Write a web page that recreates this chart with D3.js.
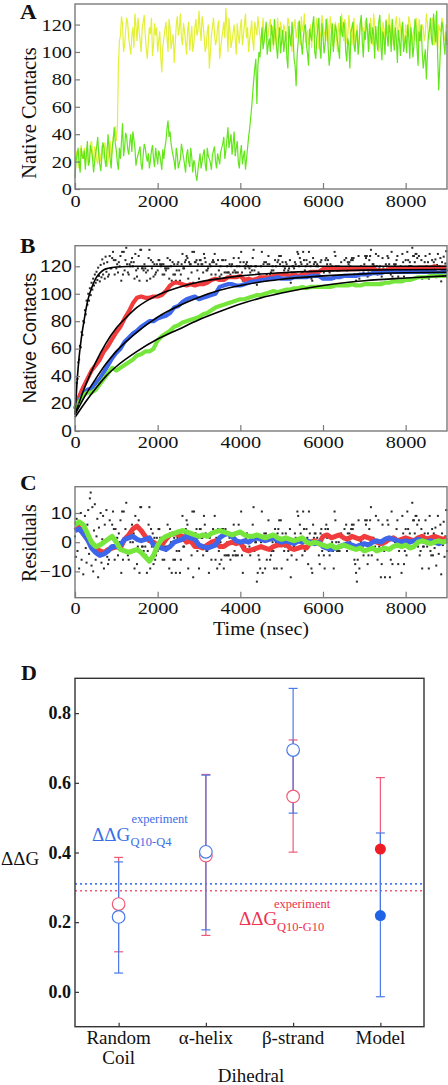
<!DOCTYPE html>
<html><head><meta charset="utf-8">
<script src="https://cdn.jsdelivr.net/npm/d3@7"></script>
<style>body{margin:0;background:#fff}svg{display:block}</style>
</head><body>
<svg id="c" width="448" height="1085"></svg>
<script>
// ---------- DATA ----------
// Panel A: two trajectories sampled every 25 ns
const tA = d3.range(0, 9001, 25);
const yellowA = [20,24,28,19,15,26,32,22,25,30,18,24,30,17,22,33,35,26,20,31,28,21,18,29,25,20,32,27,22,34,30,16,20,29,35,23,28,38,40,46,35,
45,90,108,112,126,120,100,105,116,125,121,110,104,98,112,118,103,128,119,108,125,115,109,100,117,122,127,112,102,95,108,118,113,125,97,105,121,112,118,100,
108,115,96,85,104,110,116,122,111,100,124,118,102,108,113,92,106,120,126,112,117,128,110,105,121,115,107,98,116,122,101,110,119,100,106,118,124,112,115,130,
117,108,126,120,111,100,104,115,120,88,99,112,118,125,113,105,109,118,123,95,103,110,115,122,110,132,118,100,125,115,103,108,114,120,110,98,121,112,106,118,
124,105,112,120,128,110,118,100,109,115,123,108,101,122,117,112,126,118,111,105,114,125,107,115,120,108,113,120,124,112,119,102,110,118,104,125,116,110,122,115,
106,120,117,108,112,125,121,112,108,100,113,118,124,110,115,122,118,105,126,115,119,128,107,112,116,105,111,120,103,118,122,110,114,125,117,102,109,115,127,120,
115,112,108,125,119,105,126,118,104,110,116,122,111,100,121,115,112,128,118,108,124,120,106,112,127,118,113,105,117,125,103,110,120,100,109,122,125,115,118,108,
123,118,114,110,102,125,116,105,128,120,109,112,119,100,111,118,104,122,117,108,124,115,113,128,119,110,121,105,112,120,126,115,110,125,118,108,121,112,105,120,
113,110,126,122,117,105,112,118,108,125,120,100,124,115,107,120,118,108,113,128,121,112,109,118,115,125,123,105,127,110,102,120,116,115,125,122,111,108,120,118];
const greenA = [8,20,25,30,18,12,30,24,22,28,14,26,35,17,20,32,28,22,12,20,26,31,38,25,18,13,24,34,30,21,16,27,40,29,22,15,30,36,45,33,28,
19,14,30,22,35,48,24,30,41,38,29,25,34,40,27,42,36,30,17,22,25,28,31,18,14,25,33,30,24,20,26,15,21,28,32,22,16,30,24,18,
28,25,20,14,29,22,30,35,44,50,38,42,33,28,24,20,14,30,25,15,19,22,33,28,23,18,12,25,29,20,16,30,23,12,21,18,10,6,14,20,
26,15,20,25,29,18,13,30,24,22,19,14,25,28,31,20,15,26,22,18,27,30,33,38,22,28,36,45,30,35,40,25,33,42,24,30,35,20,15,26,
32,18,24,28,14,22,30,38,44,52,60,70,80,88,95,62,90,100,96,108,118,102,108,115,122,98,105,110,100,120,113,105,124,112,104,95,110,118,99,108,
116,100,107,115,96,88,119,110,104,122,112,95,90,75,98,108,123,115,106,98,111,118,120,105,99,90,117,112,108,120,126,100,95,110,117,125,103,95,121,112,
99,105,124,118,103,90,97,112,121,100,110,120,115,108,102,95,126,115,111,122,118,100,93,110,105,88,114,118,122,105,100,112,116,98,107,120,127,108,96,115,
109,125,117,100,121,112,106,118,113,95,119,108,101,122,127,105,94,115,110,98,123,112,104,120,114,100,124,110,101,118,109,92,116,108,97,115,122,100,106,112,
99,120,111,95,118,110,96,105,124,118,103,90,115,108,120,100,88,95,102,80,97,112,116,125,109,105,128,115,107,130,96,72,90,110,122,118,106,98,115,105];

// Panel B: averaged data every 100 ns, fast folder (black) every 20 ns
const tB = d3.range(0, 9001, 100);
const tK = d3.range(0, 9001, 20);
const redB = [16,25,32,38,44,48,52,58,62,67,72,76,82,87,93,97,98,97,97,98,
98,99,102,106,108,108,107,106,107,106,107,107,108,110,111,110,110,112,112,112,
113,110,111,110,111,112,112,112,113,114,114,114,113,114,113,114,114,116,116,116,
118,119,118,119,118,118,118,118,118,118,119,118,119,117,117,117,118,118,118,118,
119,118,118,119,119,119,119,120,119,119,119];
const blueB = [16,22,27,30,31,35,38,43,48,53,57,60,65,68,71,73,76,78,80,80,
82,83,84,86,90,91,94,96,97,98,96,97,98,99,100,105,106,107,107,106,
106,107,108,109,109,110,110,111,111,112,111,111,111,112,112,112,112,113,113,113,
111,111,111,112,112,113,113,113,113,114,114,114,115,115,115,116,116,116,116,116,
116,116,116,116,116,116,116,116,115,116,116];
const greenB = [16,21,26,28,28,30,34,38,42,46,44,46,48,50,52,55,56,58,58,60,
66,69,71,73,76,77,79,80,81,82,83,85,86,88,90,91,92,93,94,95,
96,96,97,98,99,99,100,101,102,101,102,103,103,104,104,105,104,105,105,105,
105,105,105,106,106,106,106,107,106,106,107,107,107,107,107,108,108,109,109,109,
110,110,111,112,112,112,113,113,113,113,113];
const blackB = [14,20,35,38,50,52,62,61,72,70,80,79,88,85,95,92,100,95,104,99,108,103,111,106,114,108,116,110,119,113,109,121,112,125,114,122,111,127,116,123,
112.5,114,127.5,118.5,118.5,126,130.5,124.5,114,124.5,118.5,121.5,115.5,123,120,127.5,109.5,130.5,114,130.5,
117,124.5,133.5,121.5,115.5,114,121.5,120,123,126,120,123,111,129,117,112.5,118.5,127.5,109.5,132,
132,118.5,118.5,117,121.5,118.5,115.5,109.5,117,126,132,111,124.5,118.5,123,112.5,121.5,114,115.5,121.5,
117,124.5,124.5,121.5,120,121.5,114,121.5,114,118.5,117,118.5,126,118.5,111,124.5,120,109.5,123,114,
121.5,114,109.5,117,121.5,123,117,109.5,114,121.5,129,118.5,118.5,123,124.5,127.5,126,111,123,121.5,
121.5,115.5,130.5,108,130.5,123,123,124.5,117,121.5,111,124.5,124.5,121.5,121.5,115.5,129,126,123,117,
117,118.5,109.5,121.5,120,114,123,124.5,123,129,114,121.5,111,124.5,117,112.5,120,114,124.5,124.5,
111,115.5,124.5,115.5,120,115.5,115.5,121.5,114,120,121.5,115.5,126,117,115.5,115.5,120,115.5,126,120,
123,130.5,115.5,109.5,123,120,118.5,121.5,123,120,120,118.5,115.5,120,117,126,132,117,120,120,
106.5,109.5,115.5,114,111,120,130.5,109.5,121.5,123,111,123,114,121.5,127.5,121.5,114,115.5,117,120,
117,111,124.5,120,111,123,124.5,127.5,121.5,127.5,111,123,120,117,118.5,123,121.5,114,117,118.5,
124.5,108,115.5,120,120,118.5,123,121.5,114,130.5,129,120,126,123,121.5,115.5,130.5,124.5,117,120,
124.5,121.5,112.5,130.5,123,120,111,109.5,126,121.5,123,123,120,121.5,120,115.5,112.5,123,124.5,117,
118.5,115.5,111,124.5,126,121.5,124.5,117,115.5,121.5,118.5,120,117,111,130.5,127.5,120,117,117,120,
117,118.5,123,118.5,118.5,118.5,124.5,118.5,126,117,123,121.5,123,120,124.5,126,124.5,126,114,112.5,
109.5,106.5,114,127.5,111,118.5,120,118.5,118.5,115.5,121.5,127.5,126,127.5,112.5,115.5,124.5,127.5,132,115.5,
121.5,121.5,120,118.5,129,120,114,127.5,118.5,120,108,112.5,126,118.5,117,108,121.5,120,127.5,126,
121.5,108,114,130.5,112.5,
118.5,121.5,120,121.5,124.5,127.5,112.5,117,118.5,120,109.5,129,123,112.5,117,124.5,115.5,130.5,124.5,120,
123,120,120,133.5,127.5,127.5,123,129,129,126,118.5,127.5,115.5,117,124.5,111,118.5,118.5,123,127.5,
120,118.5,123,111,129,117,115.5,124.5,115.5,123,
118,125,112,121,129,116,120,126,109,123,119,127,115,122,131,117];
// exponential fits (time, value)
const fitBlack = [[0,12],[50,36],[100,54],[150,67],[200,77],[250,86],[300,94],[400,104],[500,111],[600,115],[700,117.5],[800,118.5],[1000,119.5],[1500,120],[9000,120]];
const fitRed = [[0,12],[250,33],[500,50],[750,64],[1000,75],[1250,83],[1500,90],[2000,99],[2500,104.5],[3000,108.5],[3500,111],[4000,113],[5000,115.3],[6000,116.5],[7000,117.2],[8000,117.5],[9000,117.7]];
const fitBlue = [[0,12],[250,26],[500,38],[750,49],[1000,58],[1500,72],[2000,83],[2500,91],[3000,97.5],[3500,102.5],[4000,106],[5000,110.5],[6000,113],[7000,114.5],[8000,115.3],[9000,115.7]];
const fitGreen = [[0,10],[250,21],[500,31],[750,40],[1000,47],[1500,58],[2000,67],[2500,74],[3000,81],[3500,87],[4000,92.5],[4500,97],[5000,100.5],[6000,106],[7000,109.5],[8000,111.5],[9000,113]];

// Panel C: residuals
const redC = [4,5,3,1,0,-2,-3,-3.5,-2.5,-2,-1.5,-2,1,2.5,4.5,5.5,4,2,0.5,0,
-1,-1,1,2.5,3,2.5,2,0,0.5,-1.5,-1.5,-2,-1,0,0.5,-1.5,-1.5,-0.5,0,-0.5,
0,-2.5,-3,-2.5,-2,-1.5,-2,-2.5,-1.5,-1,-1,-0.5,-2,-2.5,-2,-1.5,-2,0,0.5,-0.5,
2,2.5,1.5,2,2.5,1.5,1,2,1.5,1,2,1.5,1,0,-0.5,0,1,1.5,0.5,1,
1.5,1,0.5,1.5,2,1,1.5,2,1.5,1,1.5];
const blueC = [4,4.5,3,1,-2,-3.5,-4.5,-4,-3,-1.5,-1.5,-1,1,1.5,2,1,0.5,1,1.5,-1,
-1.5,-2,-2.5,-1.5,0,0.5,1,2,1.5,1,-1,-1.5,-2,-1.5,-1,1.5,2.5,3,2,0.5,
0,0.5,0,1,1.5,1,0.5,1,1.5,0.5,0,0.5,0,-0.5,0.5,0,0.5,0,-0.5,0,
-1.5,-2,-2.5,-2,-1.5,-1,-0.5,-1,-1.5,-1,-0.5,-1,0,0.5,0,1,1.5,1,0.5,0,
0.5,0,0.5,1,0.5,0,0.5,0,-0.5,0,0.5];
const greenC = [6,7,6,3,0,-1.5,-1,0,1,2,0,-2.5,-3,-3.5,-3,-2.5,-3.5,-5,-6.5,-4.5,
-1,1,2,2.5,3,3.5,4,3.5,3,2.5,2,2.5,2,3,3.5,4,3.5,3,2.5,3,
3.5,2.5,2,2,2.5,2,1.5,2,2.5,1.5,1,1.5,1,0.5,1,1.5,0,-0.5,0,-0.5,
-1,-1.5,-1,-2,-1.5,-1,-1.5,-2,-2.5,-2,-3,-2.5,-2,-3,-2.5,-2,-2.5,-1.5,-1,-1.5,
-1,-2,-1.5,0,0.5,0,-0.5,0,0.5,0,0.5];
const blackC = [2,-5,8,-3,6,-9,4,10,-6,3,-11,5,9,-2,-7,6,11,-4,15,17,-8,12,-10,4,13,-6,2,8,-12,5,-3,10,-7,1,9,-9,6,-4,11,-5,
-7.5,-6,7.5,-1.5,-1.5,6,10.5,4.5,-6,4.5,-1.5,1.5,-4.5,3,0,7.5,-10.5,10.5,-6,10.5,
-3,4.5,13.5,1.5,-4.5,-6,1.5,0,3,6,0,3,-9,9,-3,-7.5,-1.5,7.5,-10.5,12,
12,-1.5,-1.5,-3,1.5,-1.5,-4.5,-10.5,-3,6,12,-9,4.5,-1.5,3,-7.5,1.5,-6,-4.5,1.5,
-3,4.5,4.5,1.5,0,1.5,-6,1.5,-6,-1.5,-3,-1.5,6,-1.5,-9,4.5,0,-10.5,3,-6,
1.5,-6,-10.5,-3,1.5,3,-3,-10.5,-6,1.5,9,-1.5,-1.5,3,4.5,7.5,6,-9,3,1.5,
1.5,-4.5,10.5,-12,10.5,3,3,4.5,-3,1.5,-9,4.5,4.5,1.5,1.5,-4.5,9,6,3,-3,
-3,-1.5,-10.5,1.5,0,-6,3,4.5,3,9,-6,1.5,-9,4.5,-3,-7.5,0,-6,4.5,4.5,
-9,-4.5,4.5,-4.5,0,-4.5,-4.5,1.5,-6,0,1.5,-4.5,6,-3,-4.5,-4.5,0,-4.5,6,0,
3,10.5,-4.5,-10.5,3,0,-1.5,1.5,3,0,0,-1.5,-4.5,0,-3,6,12,-3,0,0,
-13.5,-10.5,-4.5,-6,-9,0,10.5,-10.5,1.5,3,-9,3,-6,1.5,7.5,1.5,-6,-4.5,-3,0,
-3,-9,4.5,0,-9,3,4.5,7.5,1.5,7.5,-9,3,0,-3,-1.5,3,1.5,-6,-3,-1.5,
4.5,-12,-4.5,0,0,-1.5,3,1.5,-6,10.5,9,0,6,3,1.5,-4.5,10.5,4.5,-3,0,
4.5,1.5,-7.5,10.5,3,0,-9,-10.5,6,1.5,3,3,0,1.5,0,-4.5,-7.5,3,4.5,-3,
-1.5,-4.5,-9,4.5,6,1.5,4.5,-3,-4.5,1.5,-1.5,0,-3,-9,10.5,7.5,0,-3,-3,0,
-3,-1.5,3,-1.5,-1.5,-1.5,4.5,-1.5,6,-3,3,1.5,3,0,4.5,6,4.5,6,-6,-7.5,
-10.5,-13.5,-6,7.5,-9,-1.5,0,-1.5,-1.5,-4.5,1.5,7.5,6,7.5,-7.5,-4.5,4.5,7.5,12,-4.5,
1.5,1.5,0,-1.5,9,0,-6,7.5,-1.5,0,-12,-7.5,6,-1.5,-3,-12,1.5,0,7.5,6,
1.5,-12,-6,10.5,-7.5,
-1.5,1.5,0,1.5,4.5,7.5,-7.5,-3,-1.5,0,-10.5,9,3,-7.5,-3,4.5,-4.5,10.5,4.5,0,
3,0,0,13.5,7.5,7.5,3,9,9,6,-1.5,7.5,-4.5,-3,4.5,-9,-1.5,-1.5,3,7.5,
0,-1.5,3,-9,9,-3,-4.5,4.5,-4.5,3,
-2,5,-8,1,9,-4,0,6,-11,3,-1,7,-5,2,11,-3];

// Panel D
const categories = ["Random Coil", "α-helix", "β-strand", "Model"];
const catLines = [["Random","Coil"],["α-helix"],["β-strand"],["Model"]];
const redVal = [0.252, 0.391, 0.561, 0.410];
const redLo  = [0.115, 0.162, 0.401, 0.210];
const redHi  = [0.386, 0.624, 0.723, 0.615];
const blueVal = [0.215, 0.402, 0.694, 0.219];
const blueLo  = [0.054, 0.178, 0.513, -0.014];
const blueHi  = [0.373, 0.622, 0.871, 0.456];
const isModel = [false, false, false, true];
const expBlue = 0.31, expRed = 0.29;
const xTicks = [0, 2000, 4000, 6000, 8000];

// ---------- DRAW ----------
const svg = d3.select("#c");
const SERIF = "'Liberation Serif','Times New Roman',serif";
const SANS = "'Liberation Sans',Arial,sans-serif";
const FRAME = "#7a7a7a";
const HS = 1.16;

function stretch(sel, k) {
  sel.each(function () {
    const n = this.getComputedTextLength();
    if (n > 0) { this.setAttribute("textLength", n * k); this.setAttribute("lengthAdjust", "spacingAndGlyphs"); }
  });
}
function label(txt, x, y, opt) {
  const t = svg.append("text").attr("x", x).attr("y", y).text(txt)
    .attr("font-family", opt.family || SERIF).attr("font-size", opt.size)
    .attr("font-weight", opt.weight || "normal").attr("fill", opt.fill || "#111")
    .attr("text-anchor", opt.anchor || "start");
  if (opt.rotate) t.attr("transform", `rotate(-90,${x},${y})`);
  if (opt.k) stretch(t, opt.k);
  return t;
}

function panel(cfg) {
  const x = d3.scaleLinear([0, 9000], [75, 447]);
  const y = d3.scaleLinear(cfg.ydom, [cfg.bottom, cfg.top]);
  const g = svg.append("g");
  cfg.draw(g, x, y);
  svg.append("rect").attr("x", 75).attr("y", cfg.top).attr("width", 372).attr("height", cfg.bottom - cfg.top)
    .attr("fill", "none").attr("stroke", FRAME).attr("stroke-width", 1.4);
  const ax = svg.append("g").attr("transform", `translate(0,${cfg.bottom})`)
    .call(d3.axisBottom(x).tickValues(xTicks).tickSize(-6).tickPadding(cfg.xpad).tickFormat(d3.format("d")));
  ax.select(".domain").remove();
  ax.selectAll("line").attr("stroke", FRAME).attr("stroke-width", 1.2);
  ax.selectAll("text").attr("font-family", SERIF).attr("font-size", 17.5).attr("fill", "#111");
  stretch(ax.selectAll("text"), HS);
  const ay = svg.append("g").attr("transform", "translate(75,0)")
    .call(d3.axisLeft(y).tickValues(cfg.yticks).tickSize(-5).tickPadding(3).tickFormat(d3.format("d")));
  ay.select(".domain").remove();
  ay.selectAll("line").attr("stroke", FRAME).attr("stroke-width", 1.2);
  ay.selectAll("text").attr("font-family", cfg.yfam).attr("font-size", cfg.yfs).attr("fill", "#111");
  stretch(ay.selectAll("text"), HS);
  return { x, y };
}
function dots(g, x, y, vals) {
  g.selectAll(null).data(vals).join("rect")
    .attr("x", (d, i) => x(tK[i]) - 1).attr("y", d => y(d) - 1)
    .attr("width", 2).attr("height", 2).attr("fill", "#2a2a2a");
}

// Panel A
label("A", 20, 19, { size: 21, weight: "bold", k: 1.1 });
label("Native Contacts", 36, 113, { size: 20.5, rotate: true, anchor: "middle" });
panel({
  top: 4, bottom: 189, ydom: [0, 135], yticks: [0, 20, 40, 60, 80, 100, 120], xpad: 6,
  yfam: SERIF, yfs: 17.5,
  draw(g, x, y) {
    const line = d3.line().x((d, i) => x(tA[i])).y(d => y(d));
    g.append("path").attr("d", line(yellowA)).attr("fill", "none").attr("stroke", "#e4f036").attr("stroke-width", 1.2);
    g.append("path").attr("d", line(greenA)).attr("fill", "none").attr("stroke", "#62e61a").attr("stroke-width", 1.2);
  }
});

// Panel B
label("B", 20, 253, { size: 21, weight: "bold", k: 1.1 });
label("Native Contacts", 36, 338, { size: 18.5, rotate: true, anchor: "middle", family: SANS });
panel({
  top: 245.7, bottom: 431, ydom: [0, 135], yticks: [0, 20, 40, 60, 80, 100, 120], xpad: 5,
  yfam: SANS, yfs: 16.5,
  draw(g, x, y) {
    dots(g, x, y, blackB);
    const line = d3.line().x((d, i) => x(tB[i])).y(d => y(d));
    [[redB, "#f03c3c"], [blueB, "#3e66ea"], [greenB, "#76e63c"]].forEach(([arr, c]) =>
      g.append("path").attr("d", line(arr)).attr("fill", "none").attr("stroke", c).attr("stroke-width", 4.2).attr("stroke-linejoin", "round"));
    const fl = d3.line().x(d => x(d[0])).y(d => y(d[1])).curve(d3.curveMonotoneX);
    [fitBlack, fitRed, fitBlue, fitGreen].forEach(f =>
      g.append("path").attr("d", fl(f)).attr("fill", "none").attr("stroke", "#000").attr("stroke-width", 1.6));
  }
});

// Panel C
label("C", 20, 490, { size: 21, weight: "bold", k: 1.1 });
label("Residuals", 36, 543, { size: 20, rotate: true, anchor: "middle" });
panel({
  top: 486.7, bottom: 597.7, ydom: [-19, 19], yticks: [-10, 0, 10], xpad: 4,
  yfam: SANS, yfs: 16.5,
  draw(g, x, y) {
    dots(g, x, y, blackC);
    const line = d3.line().x((d, i) => x(tB[i])).y(d => y(d));
    [[redC, "#f03c3c"], [blueC, "#3e66ea"], [greenC, "#76e63c"]].forEach(([arr, c]) =>
      g.append("path").attr("d", line(arr)).attr("fill", "none").attr("stroke", c).attr("stroke-width", 5).attr("stroke-linejoin", "round"));
  }
});
label("Time (nsec)", 261, 635, { size: 18, anchor: "middle", k: 1.12 });

// Panel D
{
  const x = d3.scaleLinear([0.5, 4.5], [75, 424]);
  const y = d3.scaleLinear([-0.1, 0.9], [1026.7, 678.3]);
  const BLUE = "#4a7ae8", RED = "#f05a78";
  label("D", 21, 680, { size: 22, weight: "bold" });
  const g = svg.append("g");
  g.append("line").attr("x1", 75).attr("x2", 424).attr("y1", y(expBlue)).attr("y2", y(expBlue))
    .attr("stroke", BLUE).attr("stroke-width", 1.6).attr("stroke-dasharray", "2,3");
  g.append("line").attr("x1", 75).attr("x2", 424).attr("y1", y(expRed)).attr("y2", y(expRed))
    .attr("stroke", RED).attr("stroke-width", 1.6).attr("stroke-dasharray", "2,3");
  function bars(lo, hi, col) {
    categories.forEach((c, i) => {
      const cx = x(i + 1);
      g.append("line").attr("x1", cx).attr("x2", cx).attr("y1", y(lo[i])).attr("y2", y(hi[i])).attr("stroke", col).attr("stroke-width", 1.2);
      [lo[i], hi[i]].forEach(v => g.append("line").attr("x1", cx - 4.5).attr("x2", cx + 4.5).attr("y1", y(v)).attr("y2", y(v)).attr("stroke", col).attr("stroke-width", 1.2));
    });
  }
  bars(redLo, redHi, RED);
  bars(blueLo, blueHi, BLUE);
  categories.forEach((c, i) => {
    const cx = x(i + 1);
    if (isModel[i]) {
      g.append("circle").attr("cx", cx).attr("cy", y(redVal[i])).attr("r", 5.5).attr("fill", "#ee1c24");
      g.append("circle").attr("cx", cx).attr("cy", y(blueVal[i])).attr("r", 5.5).attr("fill", "#1f64e8");
    } else {
      g.append("circle").attr("cx", cx).attr("cy", y(redVal[i])).attr("r", 6.3).attr("fill", "#fff").attr("stroke", RED).attr("stroke-width", 1.2);
      g.append("circle").attr("cx", cx).attr("cy", y(blueVal[i])).attr("r", 6.3).attr("fill", "#fff").attr("stroke", BLUE).attr("stroke-width", 1.2);
    }
  });
  svg.append("rect").attr("x", 75).attr("y", 678.3).attr("width", 349).attr("height", 1026.7 - 678.3)
    .attr("fill", "none").attr("stroke", "#333").attr("stroke-width", 1.4);
  const ay = svg.append("g").attr("transform", "translate(75,0)")
    .call(d3.axisLeft(y).tickValues([0, 0.2, 0.4, 0.6, 0.8]).tickSize(-4).tickPadding(4).tickFormat(d3.format(".1f")));
  ay.select(".domain").remove();
  ay.selectAll("line").attr("stroke", "#333").attr("stroke-width", 1.2);
  ay.selectAll("text").attr("font-family", SERIF).attr("font-size", 18).attr("font-weight", "bold").attr("fill", "#111");
  const ax = svg.append("g").attr("transform", "translate(0,1026.7)")
    .call(d3.axisBottom(x).tickValues([1, 2, 3, 4]).tickSize(-4).tickFormat(""));
  ax.select(".domain").remove();
  ax.selectAll("line").attr("stroke", "#333").attr("stroke-width", 1.2);
  catLines.forEach((ls, i) => ls.forEach((s, j) =>
    label(s, x(i + 1), 1044 + j * 20, { size: 19, anchor: "middle" })));
  label("Dihedral", 251, 1082, { size: 19, anchor: "middle" });
  label("ΔΔG", 1, 865, { size: 19 });
  const tb = svg.append("text").attr("font-family", SERIF).attr("fill", "#3a6ee8");
  tb.append("tspan").attr("x", 92).attr("y", 840.5).attr("font-size", 19).text("ΔΔG");
  tb.append("tspan").attr("x", 130.5).attr("y", 845.5).attr("font-size", 12.5).text("Q10-Q4");
  tb.append("tspan").attr("x", 131.5).attr("y", 822.5).attr("font-size", 12.5).text("experiment");
  const tr = svg.append("text").attr("font-family", SERIF).attr("fill", "#f0304e");
  tr.append("tspan").attr("x", 239).attr("y", 925).attr("font-size", 19).text("ΔΔG");
  tr.append("tspan").attr("x", 277).attr("y", 931).attr("font-size", 12.5).text("Q10-G10");
  tr.append("tspan").attr("x", 274).attr("y", 908).attr("font-size", 12.5).text("experiment");
}
</script>
</body></html>
